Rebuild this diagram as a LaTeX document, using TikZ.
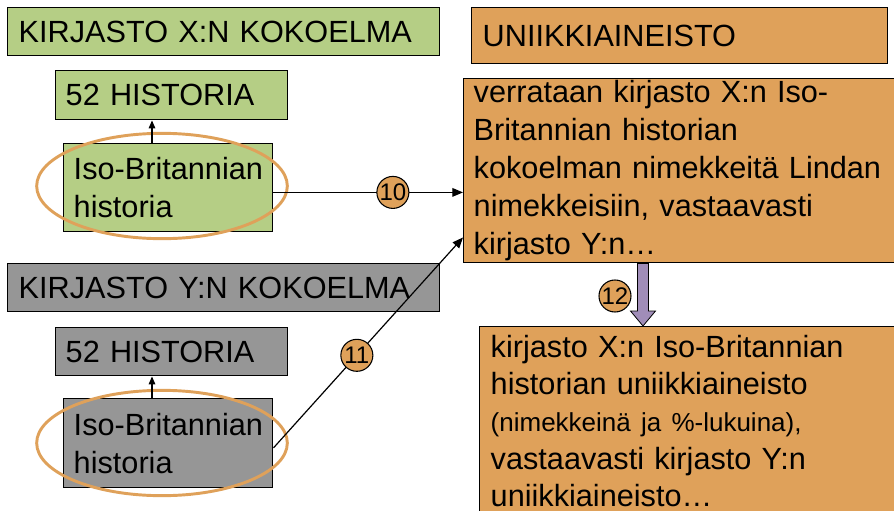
\documentclass[tikz,border=0pt]{standalone}
\usepackage{fontspec}
\setmainfont{Liberation Sans}
\usetikzlibrary{arrows.meta,shapes.geometric,calc}
\definecolor{grn}{RGB}{181,206,133}
\definecolor{gry}{RGB}{150,150,150}
\definecolor{org}{RGB}{223,161,90}
\definecolor{pur}{RGB}{160,141,184}
\begin{document}
\begin{tikzpicture}[x=0.75pt,y=-0.75pt,
  box/.style={draw=black, line width=1.1pt, anchor=north west, inner sep=0pt,
    align=left, font=\fontsize{23}{28.5}\selectfont},
  ring/.style={ellipse, draw=org, line width=2.2pt, minimum width=188pt, minimum height=79pt, inner sep=0pt},
  num/.style={circle, draw=black, fill=org, line width=0.8pt, minimum size=24pt, inner sep=0pt,
    font=\fontsize{18}{18}\selectfont},
  small/.style={line width=0.8pt, -{Triangle[length=6pt,width=5pt]}},
  conn/.style={line width=0.9pt, -{Triangle[length=8pt,width=6.5pt]}}]
\useasboundingbox (0,0) rectangle (894,511);

% left upper group
\node[box, fill=grn, minimum width=324pt, minimum height=36pt, text width=307.5pt] (titX) at (7,7) {KIRJASTO X:N KOKOELMA};
\node[box, fill=grn, minimum width=174pt, minimum height=36.75pt, text width=159pt] (hisX) at (55,70) {52 HISTORIA};
\node[box, fill=grn, minimum width=156.75pt, minimum height=66pt, text width=141.75pt] (isoX) at (63,143) {\mbox{Iso-Britannian}\\historia};
\node[ring] (eX) at (162,186) {};

% left lower group
\node[box, fill=gry, minimum width=324pt, minimum height=36pt, text width=307.5pt] (titY) at (7,263) {KIRJASTO Y:N KOKOELMA};
\node[box, fill=gry, minimum width=174pt, minimum height=36pt, text width=159pt] (hisY) at (55,327) {52 HISTORIA};
\node[box, fill=gry, minimum width=156.75pt, minimum height=66.75pt, text width=141.75pt] (isoY) at (63,398) {\mbox{Iso-Britannian}\\historia};
\node[ring] (eY) at (162,443) {};

% right group
\node[box, fill=org, minimum width=312pt, minimum height=42pt, text width=295.5pt] (uni) at (471,7) {UNIIKKIAINEISTO};
\node[box, fill=org, minimum width=324.75pt, minimum height=138pt, text width=309.75pt] (main) at (463,78)
  {verrataan kirjasto X:n Iso-\\Britannian historian\\kokoelman nimekkeitä Lindan\\nimekkeisiin, vastaavasti\\kirjasto Y:n…};
\node[box, fill=org, minimum width=312.75pt, minimum height=141pt, text width=296.25pt,
      font=\fontsize{23}{28}\selectfont] (res) at (479,326)
  {kirjasto X:n Iso-Britannian\\historian uniikkiaineisto\\{\fontsize{19.5}{28}\selectfont (nimekkeinä ja \%-lukuina),}\\vastaavasti kirjasto Y:n\\uniikkiaineisto…};

% small up arrows
\draw[small] (isoX.north -| 152,0) -- (hisX.south -| 152,0);
\draw[small] (isoY.north -| 152,0) -- (hisY.south -| 152,0);

% connectors 10 and 11
\coordinate (s10) at ([yshift=-3.5pt]isoX.east);
\coordinate (m10) at (s10 -| main.west);
\draw[conn] (s10) -- (m10) node[num, pos=0.63] (n10) {10};
\coordinate (s11) at ([yshift=-3.5pt]isoY.east);
\coordinate (m11) at ([yshift=19.5pt]main.south west);
\draw[conn] (s11) -- (m11) node[num, pos=0.44] (n11) {11};

% block arrow 12
\coordinate (pa) at ([xshift=135pt]main.south west);
\coordinate (pb) at (pa |- res.north);
\draw[fill=pur, line width=0.6pt] ($(pa)+(-5.5,0)$) -- ($(pb)+(-5.5,-15)$) -- ($(pb)+(-12.5,-15)$) -- (pb)
  -- ($(pb)+(12.5,-15)$) -- ($(pb)+(5.5,-15)$) -- ($(pa)+(5.5,0)$) -- cycle;
\node[num] (n12) at (615,296) {12};
\end{tikzpicture}
\end{document}
